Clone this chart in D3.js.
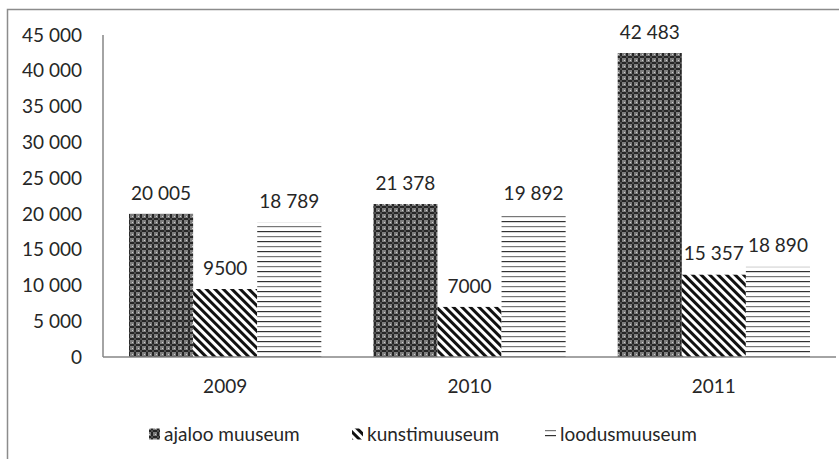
<!DOCTYPE html>
<html>
<head>
<meta charset="utf-8">
<script src="https://cdn.jsdelivr.net/npm/d3@7"></script>
<style>
  body { margin: 0; background: #fff; }
  text { font-family: Lato, "Open Sans", sans-serif; fill: #262626; }
</style>
</head>
<body>
<script>
const years = ["2009", "2010", "2011"]
const seriesNames = ["ajaloo muuseum", "kunstimuuseum", "loodusmuuseum"]
// printed data labels
const ajaloo = [20005, 21378, 42483]
const kunsti = [9500, 7000, 15357]
const loodus = [18789, 19892, 18890]
// bar heights as drawn in the picture (2011 bars are lower than their labels)
const ajalooBars = [20005, 21378, 42483]
const kunstiBars = [9500, 7000, 11500]
const loodusBars = [18789, 19892, 12600]
const yTicks = [0, 5000, 10000, 15000, 20000, 25000, 30000, 35000, 40000, 45000]

const width = 839
const height = 459
const plotLeft = 103, plotRight = 836, plotTop = 35, plotBottom = 357
const fontSize = "19px"

const svg = d3.select("body").append("svg")
    .attr("width", width)
    .attr("height", height)

// fill patterns, one per series
const defs = svg.append("defs")

let p1 = defs.append("pattern").attr("id", "pat0")
    .attr("patternUnits", "userSpaceOnUse").attr("width", 6).attr("height", 6)
p1.append("rect").attr("width", 6).attr("height", 6).attr("fill", "#7e7e7e")
p1.append("path").attr("d", "M2,0h2v2h2v2h-2v2h-2v-2h-2v-2h2z").attr("fill", "#262626")
p1.append("rect").attr("x", 2.5).attr("y", 2.5).attr("width", 1).attr("height", 1).attr("fill", "#c8c8c8")
p1.append("rect").attr("x", 0).attr("y", 0).attr("width", 1).attr("height", 1).attr("fill", "#d0d0d0")

let p2 = defs.append("pattern").attr("id", "pat1")
    .attr("patternUnits", "userSpaceOnUse").attr("width", 6).attr("height", 6)
    .attr("patternTransform", "rotate(-45)")
p2.append("rect").attr("width", 6).attr("height", 6).attr("fill", "#fff")
p2.append("rect").attr("width", 3).attr("height", 6).attr("fill", "#111")

let p3 = defs.append("pattern").attr("id", "pat2")
    .attr("patternUnits", "userSpaceOnUse").attr("width", 10).attr("height", 10)
p3.append("rect").attr("width", 10).attr("height", 10).attr("fill", "#fff")
p3.append("rect").attr("y", 1).attr("width", 10).attr("height", 1.2).attr("fill", "#333")
p3.append("rect").attr("y", 6).attr("width", 10).attr("height", 1.2).attr("fill", "#777")

// outer frame
svg.append("rect")
    .attr("x", 7.5).attr("y", 9.5)
    .attr("width", 900).attr("height", 500)
    .attr("fill", "none").attr("stroke", "#8c8c8c").attr("stroke-width", 1.5)

const y = d3.scaleLinear().domain([0, 45000]).range([plotBottom, plotTop])
const x = d3.scaleBand().domain(years).range([plotLeft, plotRight])
    .paddingInner(0.213).paddingOuter(0.1065)
const xs = d3.scaleBand().domain(seriesNames).range([0, x.bandwidth()])

const fmt = v => v >= 10000 || v == 5000 ? d3.format(",")(v).replace(/,/g, " ") : String(v)

// y tick labels (no gridlines)
svg.append("g").selectAll("text")
    .data(yTicks).enter()
    .append("text")
        .attr("x", 82)
        .attr("y", d => y(d))
        .attr("dy", "0.35em")
        .attr("text-anchor", "end")
        .style("font-size", fontSize)
        .text(d => fmt(d))

const labels = [ajaloo, kunsti, loodus]
const heights = [ajalooBars, kunstiBars, loodusBars]
const rows = []
labels.forEach((vals, si) => {
    vals.forEach((v, yi) => rows.push({ s: si, year: years[yi], label: v, value: heights[si][yi] }))
})

const bars = svg.append("g")
bars.selectAll("rect")
    .data(rows).enter()
    .append("rect")
        .attr("x", d => x(d.year) + xs(seriesNames[d.s]))
        .attr("y", d => y(d.value))
        .attr("width", xs.bandwidth())
        .attr("height", d => y(0) - y(d.value))
        .attr("fill", d => "url(#pat" + d.s + ")")

// data labels
svg.append("g").selectAll("text")
    .data(rows).enter()
    .append("text")
        .attr("x", d => x(d.year) + xs(seriesNames[d.s]) + xs.bandwidth() / 2)
        .attr("y", d => y(d.value) - 21)
        .attr("dy", "0.35em")
        .attr("text-anchor", "middle")
        .style("font-size", fontSize)
        .text(d => fmt(d.label))

// axes lines
svg.append("line")
    .attr("x1", plotLeft).attr("x2", plotLeft)
    .attr("y1", plotTop).attr("y2", plotBottom)
    .attr("stroke", "#868686").attr("stroke-width", 1.5)
svg.append("line")
    .attr("x1", plotLeft).attr("x2", plotRight)
    .attr("y1", plotBottom).attr("y2", plotBottom)
    .attr("stroke", "#868686").attr("stroke-width", 1.5)

// year labels
svg.append("g").selectAll("text")
    .data(years).enter()
    .append("text")
        .attr("x", d => x(d) + x.bandwidth() / 2)
        .attr("y", 386)
        .attr("dy", "0.35em")
        .attr("text-anchor", "middle")
        .style("font-size", fontSize)
        .text(d => d)

// legend
const legendX = [149, 352, 545]
const legend = svg.append("g")
seriesNames.forEach((name, i) => {
    let g = legend.append("g").attr("transform", "translate(" + legendX[i] + ",434)")
    g.append("rect").attr("x", 0).attr("y", -5.5).attr("width", 11).attr("height", 11)
        .attr("fill", "url(#pat" + i + ")")
    g.append("text").attr("x", 15).attr("y", 0).attr("dy", "0.35em")
        .style("font-size", fontSize).text(name)
})
</script>
</body>
</html>
